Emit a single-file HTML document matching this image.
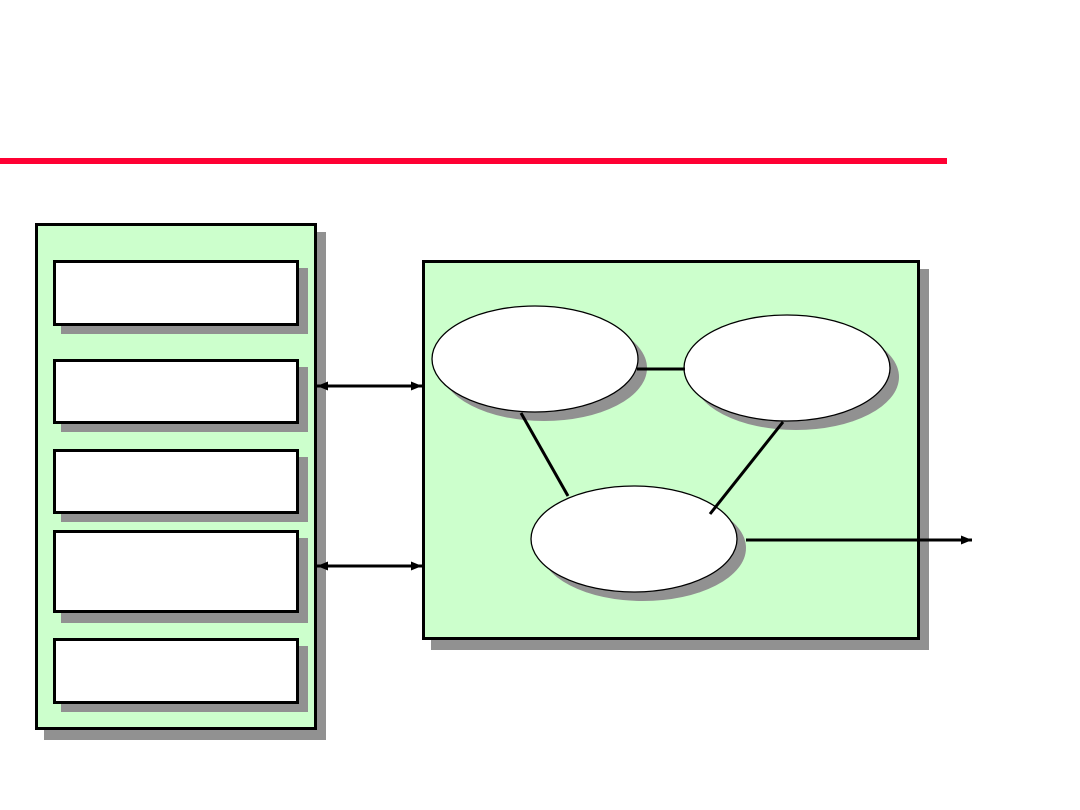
<!DOCTYPE html>
<html><head><meta charset="utf-8"><style>html,body{margin:0;padding:0;background:#fff}svg{display:block}</style></head>
<body>
<svg width="1080" height="810" viewBox="0 0 1080 810" xmlns="http://www.w3.org/2000/svg">
<defs>
<marker id="ah" markerWidth="12" markerHeight="12" refX="11" refY="6" orient="auto" markerUnits="userSpaceOnUse">
<path d="M0,1.5 L11,6 L0,10.5 Z" fill="#000"/></marker>
<marker id="ahs" markerWidth="12" markerHeight="12" refX="1" refY="6" orient="auto" markerUnits="userSpaceOnUse">
<path d="M12,1.5 L1,6 L12,10.5 Z" fill="#000"/></marker>
</defs>
<rect x="0" y="158" width="947" height="6" fill="#FF0033"/>
<rect x="44" y="232" width="282" height="508" fill="#919191"/>
<rect x="36.5" y="224.5" width="279" height="504" fill="#CCFFCC" stroke="#000" stroke-width="3"/>
<rect x="61" y="268" width="247" height="66" fill="#919191"/>
<rect x="54.5" y="261.5" width="243" height="63" fill="#fff" stroke="#000" stroke-width="3"/>
<rect x="61" y="367" width="247" height="65" fill="#919191"/>
<rect x="54.5" y="360.5" width="243" height="62" fill="#fff" stroke="#000" stroke-width="3"/>
<rect x="61" y="457" width="247" height="65" fill="#919191"/>
<rect x="54.5" y="450.5" width="243" height="62" fill="#fff" stroke="#000" stroke-width="3"/>
<rect x="61" y="538" width="247" height="85" fill="#919191"/>
<rect x="54.5" y="531.5" width="243" height="80" fill="#fff" stroke="#000" stroke-width="3"/>
<rect x="61" y="646" width="247" height="66" fill="#919191"/>
<rect x="54.5" y="639.5" width="243" height="63" fill="#fff" stroke="#000" stroke-width="3"/>
<rect x="431" y="269" width="498" height="381" fill="#919191"/>
<rect x="423.5" y="261.5" width="495" height="377" fill="#CCFFCC" stroke="#000" stroke-width="3"/>
<ellipse cx="544" cy="368" rx="103" ry="53" fill="#919191"/>
<ellipse cx="796" cy="377" rx="103" ry="53" fill="#919191"/>
<ellipse cx="643" cy="548" rx="103" ry="53" fill="#919191"/>
<ellipse cx="535" cy="359" rx="103" ry="53" fill="#fff" stroke="#000" stroke-width="1.3"/>
<ellipse cx="787" cy="368" rx="103" ry="53" fill="#fff" stroke="#000" stroke-width="1.3"/>
<ellipse cx="634" cy="539" rx="103" ry="53" fill="#fff" stroke="#000" stroke-width="1.3"/>
<line x1="637" y1="369" x2="685" y2="369" stroke="#000" stroke-width="3"/>
<line x1="521" y1="413" x2="568" y2="496" stroke="#000" stroke-width="3"/>
<line x1="783" y1="422" x2="710" y2="514" stroke="#000" stroke-width="3"/>
<line x1="746" y1="540" x2="972" y2="540" stroke="#000" stroke-width="3" marker-end="url(#ah)"/>
<line x1="317" y1="386" x2="422" y2="386" stroke="#000" stroke-width="3" marker-start="url(#ahs)" marker-end="url(#ah)"/>
<line x1="317" y1="566" x2="422" y2="566" stroke="#000" stroke-width="3" marker-start="url(#ahs)" marker-end="url(#ah)"/>
</svg>
</body></html>
